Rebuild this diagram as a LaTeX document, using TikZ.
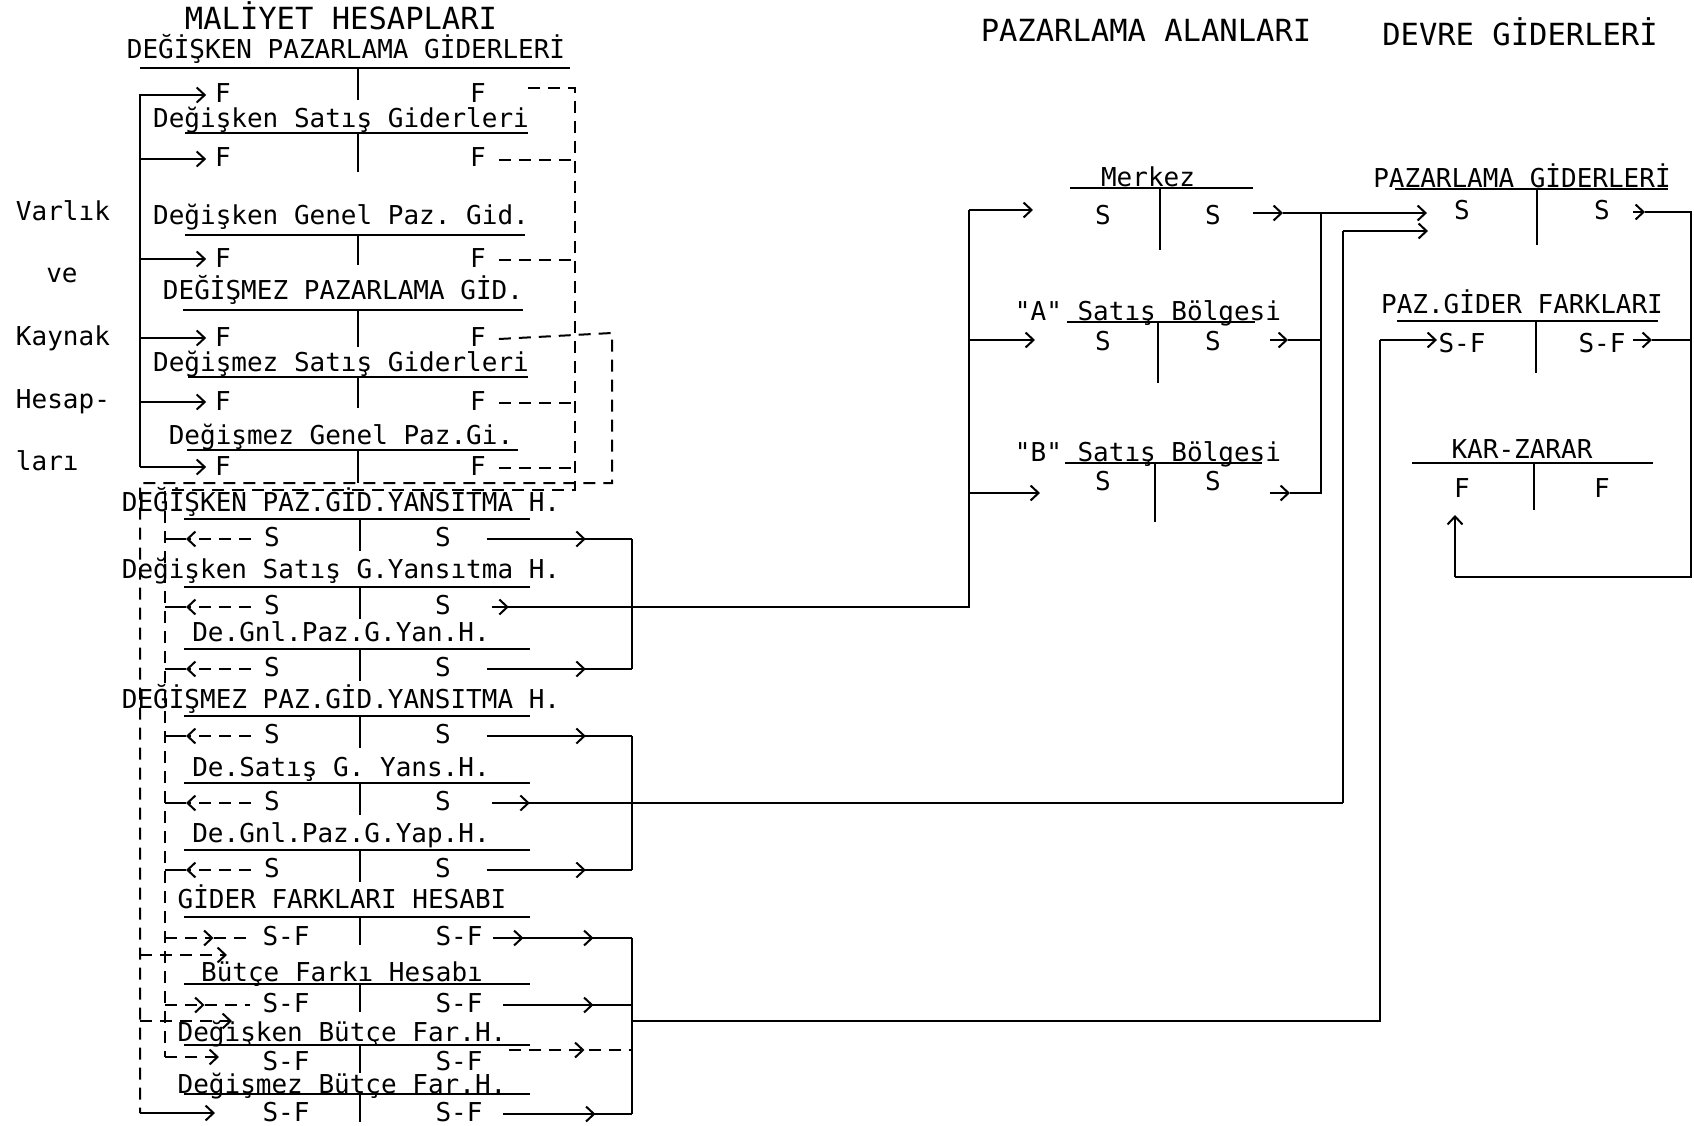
\documentclass[tikz,border=0pt]{standalone}
\usepackage{fontspec}
\setmonofont{DejaVu Sans Mono}
\usetikzlibrary{arrows.meta}

\begin{document}
\begin{tikzpicture}[x=1pt,y=-1pt,line width=2pt,
  txt/.style={font=\ttfamily\fontsize{26}{30}\selectfont,inner sep=0pt,text height=17pt,text depth=3pt},
  hdr/.style={font=\ttfamily\fontsize{30.5}{34}\selectfont,inner sep=0pt},
  arr/.style={-{Straight Barb[length=8pt,width=15pt]}},
  dsh/.style={dash pattern=on 12pt off 8pt}]
  \useasboundingbox (0,0) rectangle (1694,1126);

  % column headers
  \node[hdr] (hMal) at (341,16) {MALİYET HESAPLARI};
  \node[hdr] (hAlan) at (1146,30) {PAZARLAMA ALANLARI};
  \node[hdr] (hDevre) at (1520,32) {DEVRE GİDERLERİ};

  % varlik ve kaynak hesaplari
  \node[txt,anchor=west] (vk1) at (15,213) {Varlık};
  \node[txt] (vk2) at (62,275) {ve};
  \node[txt,anchor=west] (vk3) at (15,338) {Kaynak};
  \node[txt,anchor=west] (vk4) at (15,401) {Hesap-};
  \node[txt,anchor=west] (vk5) at (15,463) {ları};

  % maliyet hesaplari (F | F)
  \foreach \i/\tx/\ty/\ly/\lx/\rx/\vb/\fy/\tname in {
      1/346/52/68/140/570/100/96/DEĞİŞKEN PAZARLAMA GİDERLERİ,
      2/341/121/133/185/528/172/160/Değişken Satış Giderleri,
      3/341/218/235/185/525/265/260/Değişken Genel Paz. Gid.,
      4/343/292/310/183/523/347/339/DEĞİŞMEZ PAZARLAMA GİD.,
      5/341/364/377/188/528/408/403/Değişmez Satış Giderleri,
      6/341/437/450/187/518/483/468/Değişmez Genel Paz.Gi.}{
    \node[txt] (ma\i) at (\tx,\ty) {\tname};
    \draw (\lx,\ly) -- (\rx,\ly);
    \draw (358,\ly) -- (358,\vb);
    \node[txt] (fl\i) at (223,\fy) {F};
    \node[txt] (fr\i) at (478,\fy) {F};
  }

  \coordinate (busV) at (140,94);
  \draw (busV) -- (140,467);
  \foreach \i in {1,...,6}
    \draw[arr,shorten >=8pt] ([yshift=1pt]fl\i.west -| busV) -- ([yshift=1pt]fl\i.west);

  % dashed transfers of the F sides
  \coordinate (dA) at (575,88);
  \coordinate (dB) at (612,333);
  \coordinate (inA) at (165,490);
  \coordinate (outB) at (140,483);
  \draw[dsh] (528,88) -- (dA) -- (dA |- inA) -- (inA) -- (165,1057);
  \foreach \i in {2,3,5,6}
    \draw[dsh] ([xshift=12pt]fr\i.east) -- (fr\i.east -| dA);
  \draw[dsh] ([xshift=12pt]fr4.east) -- (dB) -- (dB |- outB) -- (outB) -- (140,1113);

  % yansitma hesaplari (S | S)
  \foreach \i/\ty/\ly/\tname in {
      1/504/519/DEĞİŞKEN PAZ.GİD.YANSITMA H.,
      2/571/587/Değişken Satış G.Yansıtma H.,
      3/634/649/De.Gnl.Paz.G.Yan.H.,
      4/701/716/DEĞİŞMEZ PAZ.GİD.YANSITMA H.,
      5/769/783/De.Satış G. Yans.H.,
      6/835/850/De.Gnl.Paz.G.Yap.H.}{
    \node[txt] (ya\i) at (341,\ty) {\tname};
    \draw (184,\ly) -- (530,\ly);
    \draw (360,\ly) -- ++(0,32);
    \node[txt] (sl\i) at (272,\ly+20) {S};
    \node[txt] (sr\i) at (443,\ly+20) {S};
    \draw[dsh,arr,shorten >=21pt] ([xshift=-12pt]sl\i.west) -- (sl\i.west -| inA);
    \draw (sl\i.west -| inA) -- ++(21,0);
  }

  \coordinate (yR) at (632,538);
  \foreach \i in {1,3,4,6}{
    \draw ([xshift=35pt]sr\i.east) -- (sr\i.east -| yR);
    \draw[arr] ([xshift=35pt]sr\i.east) -- ([xshift=134pt]sr\i.east);
  }
  \draw (sr1.east -| yR) -- (sr3.east -| yR);
  \draw (sr4.east -| yR) -- (sr6.east -| yR);

  % gider farklari (S-F | S-F)
  \foreach \i/\ty/\ly/\sy/\tname in {
      1/901/917/938/GİDER FARKLARI HESABI,
      2/974/984/1005/Bütçe Farkı Hesabı,
      3/1034/1045/1063/Değişken Bütçe Far.H.,
      4/1086/1094/1114/Değişmez Bütçe Far.H.}{
    \node[txt] (gf\i) at (342,\ty) {\tname};
    \draw (184,\ly) -- (530,\ly);
    \draw (360,\ly) -- ++(0,28);
    \node[txt] (gl\i) at (286,\sy) {S-F};
    \node[txt] (gr\i) at (459,\sy) {S-F};
  }

  \draw ([xshift=10pt]gr1.east) -- (gr1.east -| yR);
  \draw[arr] ([xshift=10pt]gr1.east) -- ([xshift=40pt]gr1.east);
  \draw[arr] ([xshift=40pt]gr1.east) -- ([xshift=110pt]gr1.east);
  \draw ([xshift=20pt]gr2.east) -- (gr2.east -| yR);
  \draw[arr] ([xshift=20pt]gr2.east) -- ([xshift=110pt]gr2.east);
  \draw[dsh] ([xshift=26pt,yshift=13pt]gr3.east) -- ([yshift=13pt]gr3.east -| yR);
  \draw[dsh,arr] ([xshift=26pt,yshift=13pt]gr3.east) -- ([xshift=101pt,yshift=13pt]gr3.east);
  \draw ([xshift=20pt]gr4.east) -- (gr4.east -| yR);
  \draw[arr] ([xshift=20pt]gr4.east) -- ([xshift=112pt]gr4.east);
  \draw (gr1.east -| yR) -- (gr4.east -| yR);

  \draw[dsh,arr] (gl1.west -| inA) -- ([xshift=-48pt]gl1.west);
  \draw[dsh] ([xshift=-48pt]gl1.west) -- ([xshift=-10pt]gl1.west);
  \draw[dsh,arr] (140,955) -- (227,955);
  \draw[dsh,arr] (gl2.west -| inA) -- ([xshift=-57pt]gl2.west);
  \draw[dsh] ([xshift=-57pt]gl2.west) -- ([xshift=-12pt]gl2.west);
  \draw[dsh,arr] (140,1021) -- (232,1021);
  \draw[dsh,arr] (165,1057) -- (219,1057);
  \draw[arr] (140,1113) -- (215,1113);

  % pazarlama alanlari
  \foreach \i/\ty/\ly/\lx/\rx/\vx/\vb/\sy/\tname in {
      1/180/188/1070/1253/1160/250/218/Merkez,
      2/313/322/1067/1255/1158/383/343/"A" Satış Bölgesi,
      3/454/463/1065/1262/1155/522/483/"B" Satış Bölgesi}{
    \node[txt] (pa\i) at (1148,\ty) {\tname};
    \draw (\lx,\ly) -- (\rx,\ly);
    \draw (\vx,\ly) -- (\vx,\vb);
    \node[txt] (pl\i) at (1103,\sy) {S};
    \node[txt] (pr\i) at (1213,\sy) {S};
  }

  \coordinate (busM) at (969,210);
  \coordinate (mi1) at (1033,210);
  \coordinate (mi2) at (1035,340);
  \coordinate (mi3) at (1040,493);
  \draw ([xshift=40pt]sr2.east) -- (sr2.east -| busM) -- (busM);
  \draw[arr] ([xshift=40pt]sr2.east) -- ([xshift=57pt]sr2.east);
  \foreach \i in {1,2,3}
    \draw[arr] (mi\i -| busM) -- (mi\i);

  \coordinate (busR) at (1321,213);
  \draw[arr] (1253,213) -- (1283,213);
  \draw (1283,213) -- (busR);
  \draw[arr] (1270,340) -- (1288,340);
  \draw (1288,340) -- (1321,340);
  \draw[arr] (1270,493) -- (1290,493);
  \draw (1290,493) -- (1321,493) -- (busR);

  % devre giderleri
  \foreach \i/\ty/\ly/\lx/\rx/\vx/\vb/\sy/\sl/\tname in {
      1/181/189/1395/1668/1537/245/212/S/PAZARLAMA GİDERLERİ,
      2/306/321/1397/1658/1536/373/345/S-F/PAZ.GİDER FARKLARI,
      3/451/463/1412/1653/1534/510/490/F/KAR-ZARAR}{
    \node[txt] (dg\i) at (1522,\ty) {\tname};
    \draw (\lx,\ly) -- (\rx,\ly);
    \draw (\vx,\ly) -- (\vx,\vb);
    \node[txt] (dl\i) at (1462,\sy) {\sl};
    \node[txt] (dr\i) at (1602,\sy) {\sl};
  }

  \draw[arr] (busR) -- (1427,213);
  \coordinate (busP) at (1343,231);
  \draw (sr5.east -| busP) -- (busP);
  \draw ([xshift=40pt]sr5.east) -- (sr5.east -| busP);
  \draw[arr] ([xshift=40pt]sr5.east) -- ([xshift=78pt]sr5.east);
  \draw[arr] (busP) -- (1428,231);

  \coordinate (busF) at (1380,340);
  \draw (gr2.east -| yR) ++(0,16) coordinate (cB) -- (cB -| busF) -- (busF);
  \draw[arr] (busF) -- (1437,340);

  \coordinate (busK) at (1691,212);
  \draw[arr] (1633,212) -- (1645,212);
  \draw (1645,212) -- (busK) -- (1691,577) -- (1455,577);
  \draw[arr] (1455,577) -- (1455,515);
  \draw[arr] (1633,340) -- (1652,340);
  \draw (1652,340) -- (1691,340);
\end{tikzpicture}
\end{document}
